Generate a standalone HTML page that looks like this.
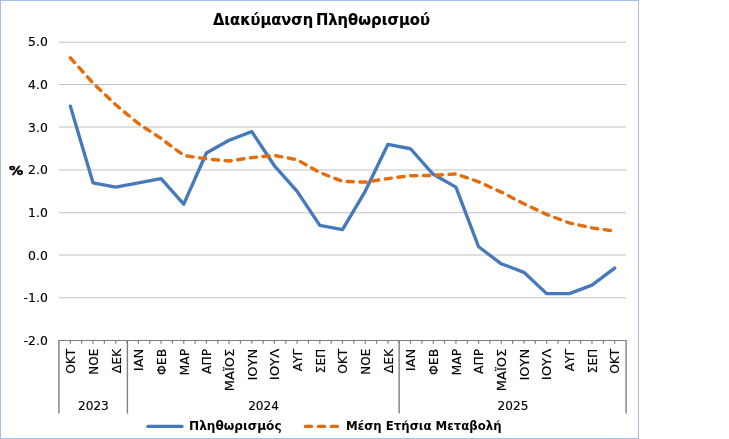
<!DOCTYPE html>
<html lang="el"><head><meta charset="utf-8"><title>Διακύμανση Πληθωρισμού</title>
<style>html,body{margin:0;padding:0;background:#fff;overflow:hidden}svg{display:block}.v{font-family:"DejaVu Sans","Liberation Sans",sans-serif;font-size:12.4px;fill:#000;stroke:#000;stroke-width:0.15px}.vb{font-family:"DejaVu Sans","Liberation Sans",sans-serif;font-size:12.2px;font-weight:bold;fill:#000}.t{font-family:"DejaVu Sans","Liberation Sans",sans-serif;font-size:15px;font-weight:bold;fill:#000;stroke:#000;stroke-width:0.15px}</style></head><body>
<svg width="729" height="439" viewBox="0 0 729 439">
<rect x="0" y="0" width="729" height="439" fill="#fff"/>
<rect x="0.5" y="0.5" width="638" height="438" fill="#fff" stroke="#a5c0e8" stroke-width="1"/>
<line x1="59.00" y1="42.20" x2="626.00" y2="42.20" stroke="#c2c2c2" stroke-width="1.05"/>
<line x1="59.00" y1="84.40" x2="626.00" y2="84.40" stroke="#c2c2c2" stroke-width="1.05"/>
<line x1="59.00" y1="127.00" x2="626.00" y2="127.00" stroke="#c2c2c2" stroke-width="1.05"/>
<line x1="59.00" y1="170.00" x2="626.00" y2="170.00" stroke="#c2c2c2" stroke-width="1.05"/>
<line x1="59.00" y1="212.80" x2="626.00" y2="212.80" stroke="#c2c2c2" stroke-width="1.05"/>
<line x1="59.00" y1="255.00" x2="626.00" y2="255.00" stroke="#c2c2c2" stroke-width="1.05"/>
<line x1="59.00" y1="297.80" x2="626.00" y2="297.80" stroke="#c2c2c2" stroke-width="1.05"/>
<line x1="58.20" y1="340.50" x2="626.80" y2="340.50" stroke="#7f7f7f" stroke-width="1.2"/>
<line x1="70.34" y1="340.50" x2="70.34" y2="343.80" stroke="#7f7f7f" stroke-width="1.2"/>
<line x1="81.68" y1="340.50" x2="81.68" y2="343.80" stroke="#7f7f7f" stroke-width="1.2"/>
<line x1="93.02" y1="340.50" x2="93.02" y2="343.80" stroke="#7f7f7f" stroke-width="1.2"/>
<line x1="104.36" y1="340.50" x2="104.36" y2="343.80" stroke="#7f7f7f" stroke-width="1.2"/>
<line x1="115.70" y1="340.50" x2="115.70" y2="343.80" stroke="#7f7f7f" stroke-width="1.2"/>
<line x1="127.04" y1="340.50" x2="127.04" y2="343.80" stroke="#7f7f7f" stroke-width="1.2"/>
<line x1="138.38" y1="340.50" x2="138.38" y2="343.80" stroke="#7f7f7f" stroke-width="1.2"/>
<line x1="149.72" y1="340.50" x2="149.72" y2="343.80" stroke="#7f7f7f" stroke-width="1.2"/>
<line x1="161.06" y1="340.50" x2="161.06" y2="343.80" stroke="#7f7f7f" stroke-width="1.2"/>
<line x1="172.40" y1="340.50" x2="172.40" y2="343.80" stroke="#7f7f7f" stroke-width="1.2"/>
<line x1="183.74" y1="340.50" x2="183.74" y2="343.80" stroke="#7f7f7f" stroke-width="1.2"/>
<line x1="195.08" y1="340.50" x2="195.08" y2="343.80" stroke="#7f7f7f" stroke-width="1.2"/>
<line x1="206.42" y1="340.50" x2="206.42" y2="343.80" stroke="#7f7f7f" stroke-width="1.2"/>
<line x1="217.76" y1="340.50" x2="217.76" y2="343.80" stroke="#7f7f7f" stroke-width="1.2"/>
<line x1="229.10" y1="340.50" x2="229.10" y2="343.80" stroke="#7f7f7f" stroke-width="1.2"/>
<line x1="240.44" y1="340.50" x2="240.44" y2="343.80" stroke="#7f7f7f" stroke-width="1.2"/>
<line x1="251.78" y1="340.50" x2="251.78" y2="343.80" stroke="#7f7f7f" stroke-width="1.2"/>
<line x1="263.12" y1="340.50" x2="263.12" y2="343.80" stroke="#7f7f7f" stroke-width="1.2"/>
<line x1="274.46" y1="340.50" x2="274.46" y2="343.80" stroke="#7f7f7f" stroke-width="1.2"/>
<line x1="285.80" y1="340.50" x2="285.80" y2="343.80" stroke="#7f7f7f" stroke-width="1.2"/>
<line x1="297.14" y1="340.50" x2="297.14" y2="343.80" stroke="#7f7f7f" stroke-width="1.2"/>
<line x1="308.48" y1="340.50" x2="308.48" y2="343.80" stroke="#7f7f7f" stroke-width="1.2"/>
<line x1="319.82" y1="340.50" x2="319.82" y2="343.80" stroke="#7f7f7f" stroke-width="1.2"/>
<line x1="331.16" y1="340.50" x2="331.16" y2="343.80" stroke="#7f7f7f" stroke-width="1.2"/>
<line x1="342.50" y1="340.50" x2="342.50" y2="343.80" stroke="#7f7f7f" stroke-width="1.2"/>
<line x1="353.84" y1="340.50" x2="353.84" y2="343.80" stroke="#7f7f7f" stroke-width="1.2"/>
<line x1="365.18" y1="340.50" x2="365.18" y2="343.80" stroke="#7f7f7f" stroke-width="1.2"/>
<line x1="376.52" y1="340.50" x2="376.52" y2="343.80" stroke="#7f7f7f" stroke-width="1.2"/>
<line x1="387.86" y1="340.50" x2="387.86" y2="343.80" stroke="#7f7f7f" stroke-width="1.2"/>
<line x1="399.20" y1="340.50" x2="399.20" y2="343.80" stroke="#7f7f7f" stroke-width="1.2"/>
<line x1="410.54" y1="340.50" x2="410.54" y2="343.80" stroke="#7f7f7f" stroke-width="1.2"/>
<line x1="421.88" y1="340.50" x2="421.88" y2="343.80" stroke="#7f7f7f" stroke-width="1.2"/>
<line x1="433.22" y1="340.50" x2="433.22" y2="343.80" stroke="#7f7f7f" stroke-width="1.2"/>
<line x1="444.56" y1="340.50" x2="444.56" y2="343.80" stroke="#7f7f7f" stroke-width="1.2"/>
<line x1="455.90" y1="340.50" x2="455.90" y2="343.80" stroke="#7f7f7f" stroke-width="1.2"/>
<line x1="467.24" y1="340.50" x2="467.24" y2="343.80" stroke="#7f7f7f" stroke-width="1.2"/>
<line x1="478.58" y1="340.50" x2="478.58" y2="343.80" stroke="#7f7f7f" stroke-width="1.2"/>
<line x1="489.92" y1="340.50" x2="489.92" y2="343.80" stroke="#7f7f7f" stroke-width="1.2"/>
<line x1="501.26" y1="340.50" x2="501.26" y2="343.80" stroke="#7f7f7f" stroke-width="1.2"/>
<line x1="512.60" y1="340.50" x2="512.60" y2="343.80" stroke="#7f7f7f" stroke-width="1.2"/>
<line x1="523.94" y1="340.50" x2="523.94" y2="343.80" stroke="#7f7f7f" stroke-width="1.2"/>
<line x1="535.28" y1="340.50" x2="535.28" y2="343.80" stroke="#7f7f7f" stroke-width="1.2"/>
<line x1="546.62" y1="340.50" x2="546.62" y2="343.80" stroke="#7f7f7f" stroke-width="1.2"/>
<line x1="557.96" y1="340.50" x2="557.96" y2="343.80" stroke="#7f7f7f" stroke-width="1.2"/>
<line x1="569.30" y1="340.50" x2="569.30" y2="343.80" stroke="#7f7f7f" stroke-width="1.2"/>
<line x1="580.64" y1="340.50" x2="580.64" y2="343.80" stroke="#7f7f7f" stroke-width="1.2"/>
<line x1="591.98" y1="340.50" x2="591.98" y2="343.80" stroke="#7f7f7f" stroke-width="1.2"/>
<line x1="603.32" y1="340.50" x2="603.32" y2="343.80" stroke="#7f7f7f" stroke-width="1.2"/>
<line x1="614.66" y1="340.50" x2="614.66" y2="343.80" stroke="#7f7f7f" stroke-width="1.2"/>
<line x1="58.90" y1="340.50" x2="58.90" y2="413.60" stroke="#7f7f7f" stroke-width="1.4"/>
<line x1="127.40" y1="340.50" x2="127.40" y2="413.60" stroke="#7f7f7f" stroke-width="1.4"/>
<line x1="399.15" y1="340.50" x2="399.15" y2="413.60" stroke="#7f7f7f" stroke-width="1.4"/>
<line x1="626.10" y1="340.50" x2="626.10" y2="413.60" stroke="#7f7f7f" stroke-width="1.4"/>
<text class="v" x="47.8" y="46.20" text-anchor="end">5.0</text>
<text class="v" x="47.8" y="88.91" text-anchor="end">4.0</text>
<text class="v" x="47.8" y="131.63" text-anchor="end">3.0</text>
<text class="v" x="47.8" y="174.34" text-anchor="end">2.0</text>
<text class="v" x="47.8" y="217.06" text-anchor="end">1.0</text>
<text class="v" x="47.8" y="259.77" text-anchor="end">0.0</text>
<text class="v" x="47.8" y="302.48" text-anchor="end">-1.0</text>
<text class="v" x="47.8" y="345.20" text-anchor="end">-2.0</text>
<text class="vb" x="8.9" y="174.8" textLength="14.2" lengthAdjust="spacingAndGlyphs" style="stroke:#000;stroke-width:0.5px">%</text>
<text class="v" transform="translate(70.74 348.8) rotate(-90)" text-anchor="end" x="0" y="4.4" textLength="25.07" lengthAdjust="spacingAndGlyphs">ΟΚΤ</text>
<text class="v" transform="translate(93.42 348.8) rotate(-90)" text-anchor="end" x="0" y="4.4" textLength="25.87" lengthAdjust="spacingAndGlyphs">ΝΟΕ</text>
<text class="v" transform="translate(116.10 348.8) rotate(-90)" text-anchor="end" x="0" y="4.4" textLength="24.44" lengthAdjust="spacingAndGlyphs">ΔΕΚ</text>
<text class="v" transform="translate(138.78 348.8) rotate(-90)" text-anchor="end" x="0" y="4.4" textLength="22.39" lengthAdjust="spacingAndGlyphs">ΙΑΝ</text>
<text class="v" transform="translate(161.46 348.8) rotate(-90)" text-anchor="end" x="0" y="4.4" textLength="26.09" lengthAdjust="spacingAndGlyphs">ΦΕΒ</text>
<text class="v" transform="translate(184.14 348.8) rotate(-90)" text-anchor="end" x="0" y="4.4" textLength="26.64" lengthAdjust="spacingAndGlyphs">ΜΑΡ</text>
<text class="v" transform="translate(206.82 348.8) rotate(-90)" text-anchor="end" x="0" y="4.4" textLength="25.27" lengthAdjust="spacingAndGlyphs">ΑΠΡ</text>
<text class="v" transform="translate(229.50 348.8) rotate(-90)" text-anchor="end" x="0" y="4.4" textLength="42.43" lengthAdjust="spacingAndGlyphs">ΜΑΪΟΣ</text>
<text class="v" transform="translate(252.18 348.8) rotate(-90)" text-anchor="end" x="0" y="4.4" textLength="31.76" lengthAdjust="spacingAndGlyphs">ΙΟΥΝ</text>
<text class="v" transform="translate(274.86 348.8) rotate(-90)" text-anchor="end" x="0" y="4.4" textLength="31.36" lengthAdjust="spacingAndGlyphs">ΙΟΥΛ</text>
<text class="v" transform="translate(297.54 348.8) rotate(-90)" text-anchor="end" x="0" y="4.4" textLength="22.49" lengthAdjust="spacingAndGlyphs">ΑΥΓ</text>
<text class="v" transform="translate(320.22 348.8) rotate(-90)" text-anchor="end" x="0" y="4.4" textLength="24.36" lengthAdjust="spacingAndGlyphs">ΣΕΠ</text>
<text class="v" transform="translate(342.90 348.8) rotate(-90)" text-anchor="end" x="0" y="4.4" textLength="25.07" lengthAdjust="spacingAndGlyphs">ΟΚΤ</text>
<text class="v" transform="translate(365.58 348.8) rotate(-90)" text-anchor="end" x="0" y="4.4" textLength="25.87" lengthAdjust="spacingAndGlyphs">ΝΟΕ</text>
<text class="v" transform="translate(388.26 348.8) rotate(-90)" text-anchor="end" x="0" y="4.4" textLength="24.44" lengthAdjust="spacingAndGlyphs">ΔΕΚ</text>
<text class="v" transform="translate(410.94 348.8) rotate(-90)" text-anchor="end" x="0" y="4.4" textLength="22.39" lengthAdjust="spacingAndGlyphs">ΙΑΝ</text>
<text class="v" transform="translate(433.62 348.8) rotate(-90)" text-anchor="end" x="0" y="4.4" textLength="26.09" lengthAdjust="spacingAndGlyphs">ΦΕΒ</text>
<text class="v" transform="translate(456.30 348.8) rotate(-90)" text-anchor="end" x="0" y="4.4" textLength="26.64" lengthAdjust="spacingAndGlyphs">ΜΑΡ</text>
<text class="v" transform="translate(478.98 348.8) rotate(-90)" text-anchor="end" x="0" y="4.4" textLength="25.27" lengthAdjust="spacingAndGlyphs">ΑΠΡ</text>
<text class="v" transform="translate(501.66 348.8) rotate(-90)" text-anchor="end" x="0" y="4.4" textLength="42.43" lengthAdjust="spacingAndGlyphs">ΜΑΪΟΣ</text>
<text class="v" transform="translate(524.34 348.8) rotate(-90)" text-anchor="end" x="0" y="4.4" textLength="31.76" lengthAdjust="spacingAndGlyphs">ΙΟΥΝ</text>
<text class="v" transform="translate(547.02 348.8) rotate(-90)" text-anchor="end" x="0" y="4.4" textLength="31.36" lengthAdjust="spacingAndGlyphs">ΙΟΥΛ</text>
<text class="v" transform="translate(569.70 348.8) rotate(-90)" text-anchor="end" x="0" y="4.4" textLength="22.49" lengthAdjust="spacingAndGlyphs">ΑΥΓ</text>
<text class="v" transform="translate(592.38 348.8) rotate(-90)" text-anchor="end" x="0" y="4.4" textLength="24.36" lengthAdjust="spacingAndGlyphs">ΣΕΠ</text>
<text class="v" transform="translate(615.06 348.8) rotate(-90)" text-anchor="end" x="0" y="4.4" textLength="25.07" lengthAdjust="spacingAndGlyphs">ΟΚΤ</text>
<text class="v" x="93.42" y="410.3" text-anchor="middle" style="font-size:12.1px">2023</text>
<text class="v" x="263.52" y="410.3" text-anchor="middle" style="font-size:12.1px">2024</text>
<text class="v" x="513.00" y="410.3" text-anchor="middle" style="font-size:12.1px">2025</text>
<text class="t" y="24.9"><tspan x="213.0" textLength="100.2" lengthAdjust="spacingAndGlyphs">Διακύμανση</tspan><tspan> </tspan><tspan x="315.9" textLength="114" lengthAdjust="spacingAndGlyphs">Πληθωρισμού</tspan></text>
<polyline points="70.34,106.12 93.02,182.83 115.70,187.09 138.38,182.83 161.06,178.57 183.74,204.13 206.42,153.00 229.10,140.21 251.78,131.69 274.46,165.78 297.14,191.35 319.82,225.44 342.50,229.70 365.18,191.35 387.86,144.47 410.54,148.74 433.22,174.30 455.90,187.09 478.58,246.75 501.26,263.79 523.94,272.32 546.62,293.62 569.30,293.62 591.98,285.10 614.66,268.06" fill="none" stroke="#4579b9" stroke-width="3.35" stroke-linecap="round" stroke-linejoin="round"/>
<path d="M70.34 57.89 L93.02 83.03 L115.70 104.77 L138.38 123.52 L161.06 138.43 L183.74 155.48 L206.42 158.89 L229.10 161.02 L251.78 157.61 L274.46 155.48 L297.14 159.74 L319.82 172.52 L342.50 181.39 L365.18 182.11 L387.86 178.57 L410.54 175.72 L433.22 175.38 L455.90 173.93 L478.58 181.77 L501.26 192.13 L523.94 203.76 L546.62 214.41 L569.30 222.94 L591.98 227.92 L614.66 231.12" fill="none" stroke="#e46c0a" stroke-width="3.4" stroke-linecap="round" stroke-linejoin="round" stroke-dasharray="6.2 6.59"/>
<line x1="147.8" y1="426.4" x2="182" y2="426.4" stroke="#4579b9" stroke-width="3.2" stroke-linecap="round"/>
<text class="vb" x="189.0" y="430.3" textLength="92.6" lengthAdjust="spacingAndGlyphs">Πληθωρισμός</text>
<line x1="305.35" y1="426.45" x2="338" y2="426.45" stroke="#e46c0a" stroke-width="3.3" stroke-linecap="round" stroke-dasharray="6.2 6.76"/>
<text class="vb" x="346.0" y="430.3" textLength="155.6" lengthAdjust="spacingAndGlyphs">Μέση Ετήσια Μεταβολή</text>
</svg></body></html>
